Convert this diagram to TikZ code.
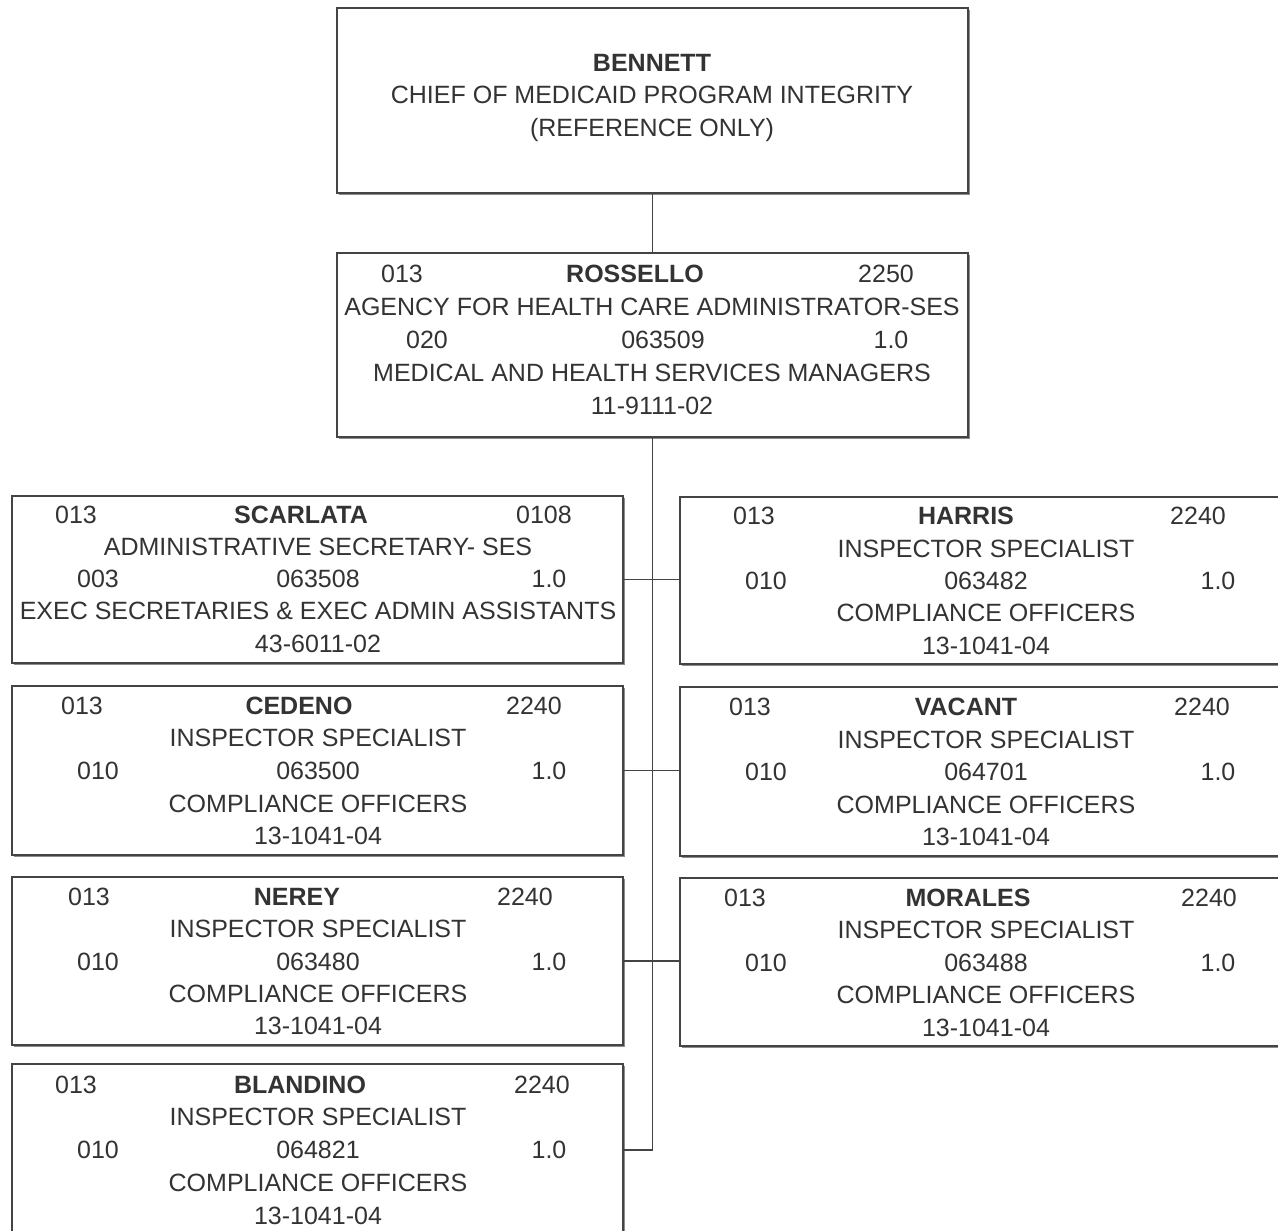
\documentclass[tikz,border=0pt]{standalone}
\usepackage{fontspec}
\setmainfont{Liberation Sans}
\usetikzlibrary{shadows}
\definecolor{ink}{HTML}{333333}
\definecolor{rule}{HTML}{444444}
\tikzset{
  orgbox/.style={draw=rule, line width=1.6pt, fill=white, inner sep=0pt,
    drop shadow={shadow xshift=2.2pt, shadow yshift=-2.2pt, fill=black!45, opacity=1}},
  conn/.style={draw=rule, line width=1.4pt},
  txt/.style={anchor=base, inner sep=0pt, text=ink, font=\fontsize{25}{30}\selectfont},
  hd/.style={txt, font=\fontsize{25}{30}\selectfont\bfseries},
}
\begin{document}
\begin{tikzpicture}[x=1pt,y=-1pt]
\useasboundingbox[fill=white] (0,0) rectangle (1278,1231);

% ---- boxes ----
\node[orgbox] (bennett) at (652.5,100.5) [minimum width=631pt, minimum height=185pt] {};
\node[orgbox] (rossello) at (652.5,345) [minimum width=631pt, minimum height=184pt] {};
\node[orgbox] (scarlata) at (317.5,579.5) [minimum width=611pt, minimum height=167pt] {};
\node[orgbox] (cedeno) at (317.5,770.5) [minimum width=611pt, minimum height=169pt] {};
\node[orgbox] (nerey) at (317.5,961) [minimum width=611pt, minimum height=168pt] {};
\node[orgbox] (blandino) at (317.5,1150) [minimum width=611pt, minimum height=172pt] {};
\node[orgbox] (harris) at (982,580.5) [minimum width=604pt, minimum height=167pt] {};
\node[orgbox] (vacant) at (982,771.5) [minimum width=604pt, minimum height=169pt] {};
\node[orgbox] (morales) at (982,962) [minimum width=604pt, minimum height=168pt] {};

% ---- connectors ----
\coordinate (trunkend) at (rossello.south |- blandino.east);
\draw[conn] (bennett.south) -- (rossello.north);
\draw[conn] (rossello.south) -- (trunkend) -- (blandino.east);
\draw[conn] (scarlata.east) -- (scarlata.east -| harris.west);
\draw[conn] (cedeno.east) -- (cedeno.east -| vacant.west);
\draw[conn] (nerey.east) -- (nerey.east -| morales.west);

% ---- Bennett ----
\node[hd]  (t-ben-1) at (652,71) {BENNETT};
\node[txt] (t-ben-2) at (652,103) {CHIEF OF MEDICAID PROGRAM INTEGRITY};
\node[txt] (t-ben-3) at (652,136) {(REFERENCE ONLY)};

% ---- Rossello ----
\node[txt] (t-ros-a) at (402,282) {013};
\node[hd]  (t-ros-b) at (635,282) {ROSSELLO};
\node[txt] (t-ros-c) at (886,282) {2250};
\node[txt] (t-ros-2) at (652,315) {AGENCY FOR HEALTH CARE ADMINISTRATOR-SES};
\node[txt] (t-ros-d) at (427,348) {020};
\node[txt] (t-ros-e) at (663,348) {063509};
\node[txt] (t-ros-f) at (891,348) {1.0};
\node[txt] (t-ros-4) at (652,381) {MEDICAL AND HEALTH SERVICES MANAGERS};
\node[txt] (t-ros-5) at (652,414) {11-9111-02};

% ---- Scarlata ----
\node[txt] (t-sca-a) at (76,523) {013};
\node[hd]  (t-sca-b) at (301,523) {SCARLATA};
\node[txt] (t-sca-c) at (544,523) {0108};
\node[txt] (t-sca-2) at (318,555) {ADMINISTRATIVE SECRETARY- SES};
\node[txt] (t-sca-d) at (98,587) {003};
\node[txt] (t-sca-e) at (318,587) {063508};
\node[txt] (t-sca-f) at (549,587) {1.0};
\node[txt] (t-sca-4) at (318,619) {EXEC SECRETARIES \& EXEC ADMIN ASSISTANTS};
\node[txt] (t-sca-5) at (318,652) {43-6011-02};

% ---- Cedeno ----
\node[txt] (t-ced-a) at (82,714) {013};
\node[hd]  (t-ced-b) at (299,714) {CEDENO};
\node[txt] (t-ced-c) at (534,714) {2240};
\node[txt] (t-ced-2) at (318,746) {INSPECTOR SPECIALIST};
\node[txt] (t-ced-d) at (98,779) {010};
\node[txt] (t-ced-e) at (318,779) {063500};
\node[txt] (t-ced-f) at (549,779) {1.0};
\node[txt] (t-ced-4) at (318,812) {COMPLIANCE OFFICERS};
\node[txt] (t-ced-5) at (318,844) {13-1041-04};

% ---- Nerey ----
\node[txt] (t-ner-a) at (89,905) {013};
\node[hd]  (t-ner-b) at (297,905) {NEREY};
\node[txt] (t-ner-c) at (525,905) {2240};
\node[txt] (t-ner-2) at (318,937) {INSPECTOR SPECIALIST};
\node[txt] (t-ner-d) at (98,970) {010};
\node[txt] (t-ner-e) at (318,970) {063480};
\node[txt] (t-ner-f) at (549,970) {1.0};
\node[txt] (t-ner-4) at (318,1002) {COMPLIANCE OFFICERS};
\node[txt] (t-ner-5) at (318,1034) {13-1041-04};

% ---- Blandino ----
\node[txt] (t-bla-a) at (76,1093) {013};
\node[hd]  (t-bla-b) at (300,1093) {BLANDINO};
\node[txt] (t-bla-c) at (542,1093) {2240};
\node[txt] (t-bla-2) at (318,1125) {INSPECTOR SPECIALIST};
\node[txt] (t-bla-d) at (98,1158) {010};
\node[txt] (t-bla-e) at (318,1158) {064821};
\node[txt] (t-bla-f) at (549,1158) {1.0};
\node[txt] (t-bla-4) at (318,1191) {COMPLIANCE OFFICERS};
\node[txt] (t-bla-5) at (318,1224) {13-1041-04};

% ---- Harris ----
\node[txt] (t-har-a) at (754,524) {013};
\node[hd]  (t-har-b) at (966,524) {HARRIS};
\node[txt] (t-har-c) at (1198,524) {2240};
\node[txt] (t-har-2) at (986,557) {INSPECTOR SPECIALIST};
\node[txt] (t-har-d) at (766,589) {010};
\node[txt] (t-har-e) at (986,589) {063482};
\node[txt] (t-har-f) at (1218,589) {1.0};
\node[txt] (t-har-4) at (986,621) {COMPLIANCE OFFICERS};
\node[txt] (t-har-5) at (986,654) {13-1041-04};

% ---- Vacant ----
\node[txt] (t-vac-a) at (750,715) {013};
\node[hd]  (t-vac-b) at (966,715) {VACANT};
\node[txt] (t-vac-c) at (1202,715) {2240};
\node[txt] (t-vac-2) at (986,748) {INSPECTOR SPECIALIST};
\node[txt] (t-vac-d) at (766,780) {010};
\node[txt] (t-vac-e) at (986,780) {064701};
\node[txt] (t-vac-f) at (1218,780) {1.0};
\node[txt] (t-vac-4) at (986,813) {COMPLIANCE OFFICERS};
\node[txt] (t-vac-5) at (986,845) {13-1041-04};

% ---- Morales ----
\node[txt] (t-mor-a) at (745,906) {013};
\node[hd]  (t-mor-b) at (968,906) {MORALES};
\node[txt] (t-mor-c) at (1209,906) {2240};
\node[txt] (t-mor-2) at (986,938) {INSPECTOR SPECIALIST};
\node[txt] (t-mor-d) at (766,971) {010};
\node[txt] (t-mor-e) at (986,971) {063488};
\node[txt] (t-mor-f) at (1218,971) {1.0};
\node[txt] (t-mor-4) at (986,1003) {COMPLIANCE OFFICERS};
\node[txt] (t-mor-5) at (986,1036) {13-1041-04};
\end{tikzpicture}
\end{document}
